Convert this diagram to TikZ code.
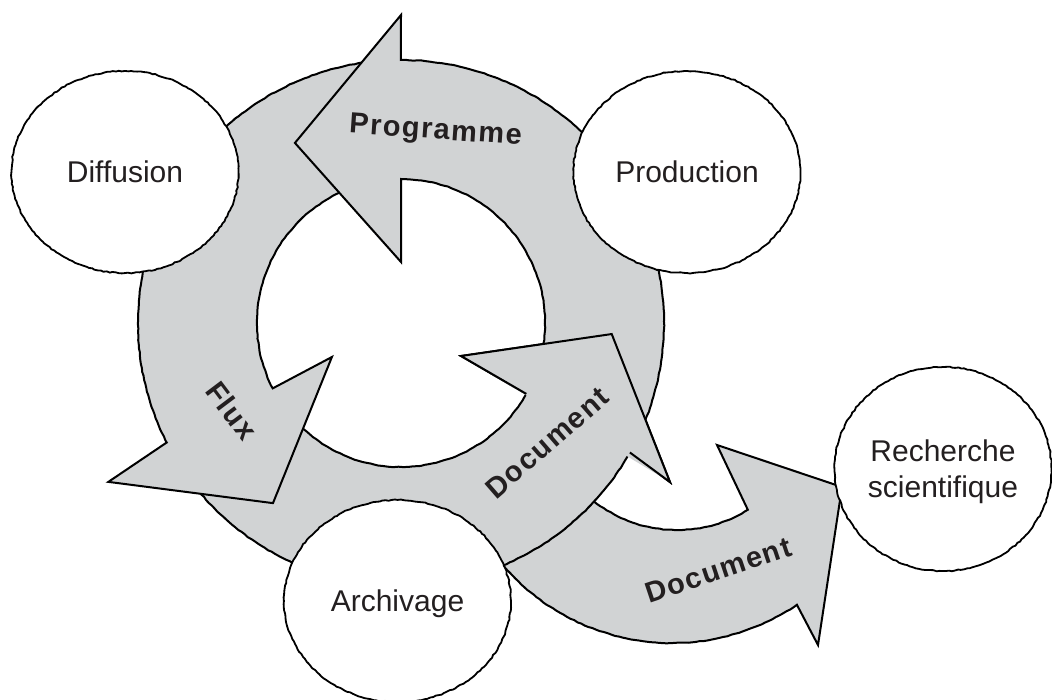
\documentclass[tikz,border=0pt]{standalone}
\usepackage{fontspec}
\setmainfont{Liberation Sans}
\usetikzlibrary{shapes.geometric,decorations.pathmorphing}
\definecolor{ringgrey}{RGB}{209,211,212}
\definecolor{inkc}{RGB}{35,31,32}
\begin{document}
\begin{tikzpicture}[x=1pt,y=-1pt,
  arrowshape/.style={fill=ringgrey,draw=black,line width=2pt,line join=miter,miter limit=10},
  arrowline/.style={draw=black,line width=2pt,line join=miter,miter limit=10},
  wob/.style={decoration={random steps,segment length=4pt,amplitude=0.35pt}},
  bubble/.style={ellipse,draw=black,fill=white,line width=1.8pt,minimum width=227pt,minimum height=202pt,inner sep=0pt,text depth=0pt,text=inkc,font=\fontsize{30}{36}\selectfont,decorate,decoration={random steps,segment length=3pt,amplitude=0.55pt}},
  flow/.style={text=inkc,font=\fontsize{29}{34}\selectfont\bfseries\addfontfeatures{LetterSpace=5}}
]
\pgfmathsetseed{7}
\useasboundingbox (0,0) rectangle (1052,700);
% second Document arrow (towards Recherche scientifique)
\path[arrowshape] ([shift={(677,396)}]150:134) -- ([shift={(672,420)}]150:223)
  decorate[wob]{arc[start angle=150,end angle=55.95,radius=223]} -- (818,645) -- (842,487) -- (717,445)
  -- ([shift={(677,396)}]58.1:134) decorate[wob]{arc[start angle=58.1,end angle=150,radius=134]} -- cycle;
\begin{scope}[shift={(401,323)}]
% Document arrow (ring, lower right)
\path[arrowshape] (143:144) -- (143:263) decorate[wob]{arc[start angle=143,end angle=29.5,radius=263]}
  -- (30.6:312.5) -- (3:211) -- (28.8:68.5) -- (29.5:144)
  decorate[wob]{arc[start angle=29.5,end angle=143,radius=144]} -- cycle;
% Flux arrow (ring, left)
\path[arrowshape] (265:144) -- (265:263) decorate[wob]{arc[start angle=265,end angle=153,radius=263]}
  -- (151.5:333) -- (125.4:221) -- (153.8:77) -- (153:144)
  decorate[wob]{arc[start angle=153,end angle=265,radius=144]} -- cycle;
% Programme arrow (ring, top)
\path[arrowshape] (25:144) -- (25:263) decorate[wob]{arc[start angle=25,end angle=-90,radius=263]}
  -- (-90:308) -- (-120.5:209) -- (-90:61) -- (-90:144)
  decorate[wob]{arc[start angle=-90,end angle=25,radius=144]} -- cycle;
% Document head again on top of the Programme tail
\fill[ringgrey] (30.6:312.5) -- (3:211) -- (28.8:68.5) -- cycle;
\draw[arrowline] (29.5:263) -- (30.6:312.5) -- (3:211) -- (28.8:68.5) -- (29.5:144);
\end{scope}
% circles
\node[bubble] (diffusion) at (125,172) {Diffusion};
\node[bubble] (production) at (687,172) {Production};
\node[bubble] (archivage) at (397.5,601) {Archivage};
\node[bubble,minimum width=217pt,minimum height=204pt,align=center] (recherche) at (943,469) {Recherche\\scientifique};
% flow labels
\node[flow,rotate=-4,anchor=base] (lprog) at (435,139) {Programme};
\node[flow,rotate=-53] (lflux) at (232,411) {Flux};
\node[flow,rotate=41] (ldoca) at (547,443) {Document};
\node[flow,rotate=18.5] (ldocb) at (718,570) {Document};
\end{tikzpicture}
\end{document}
